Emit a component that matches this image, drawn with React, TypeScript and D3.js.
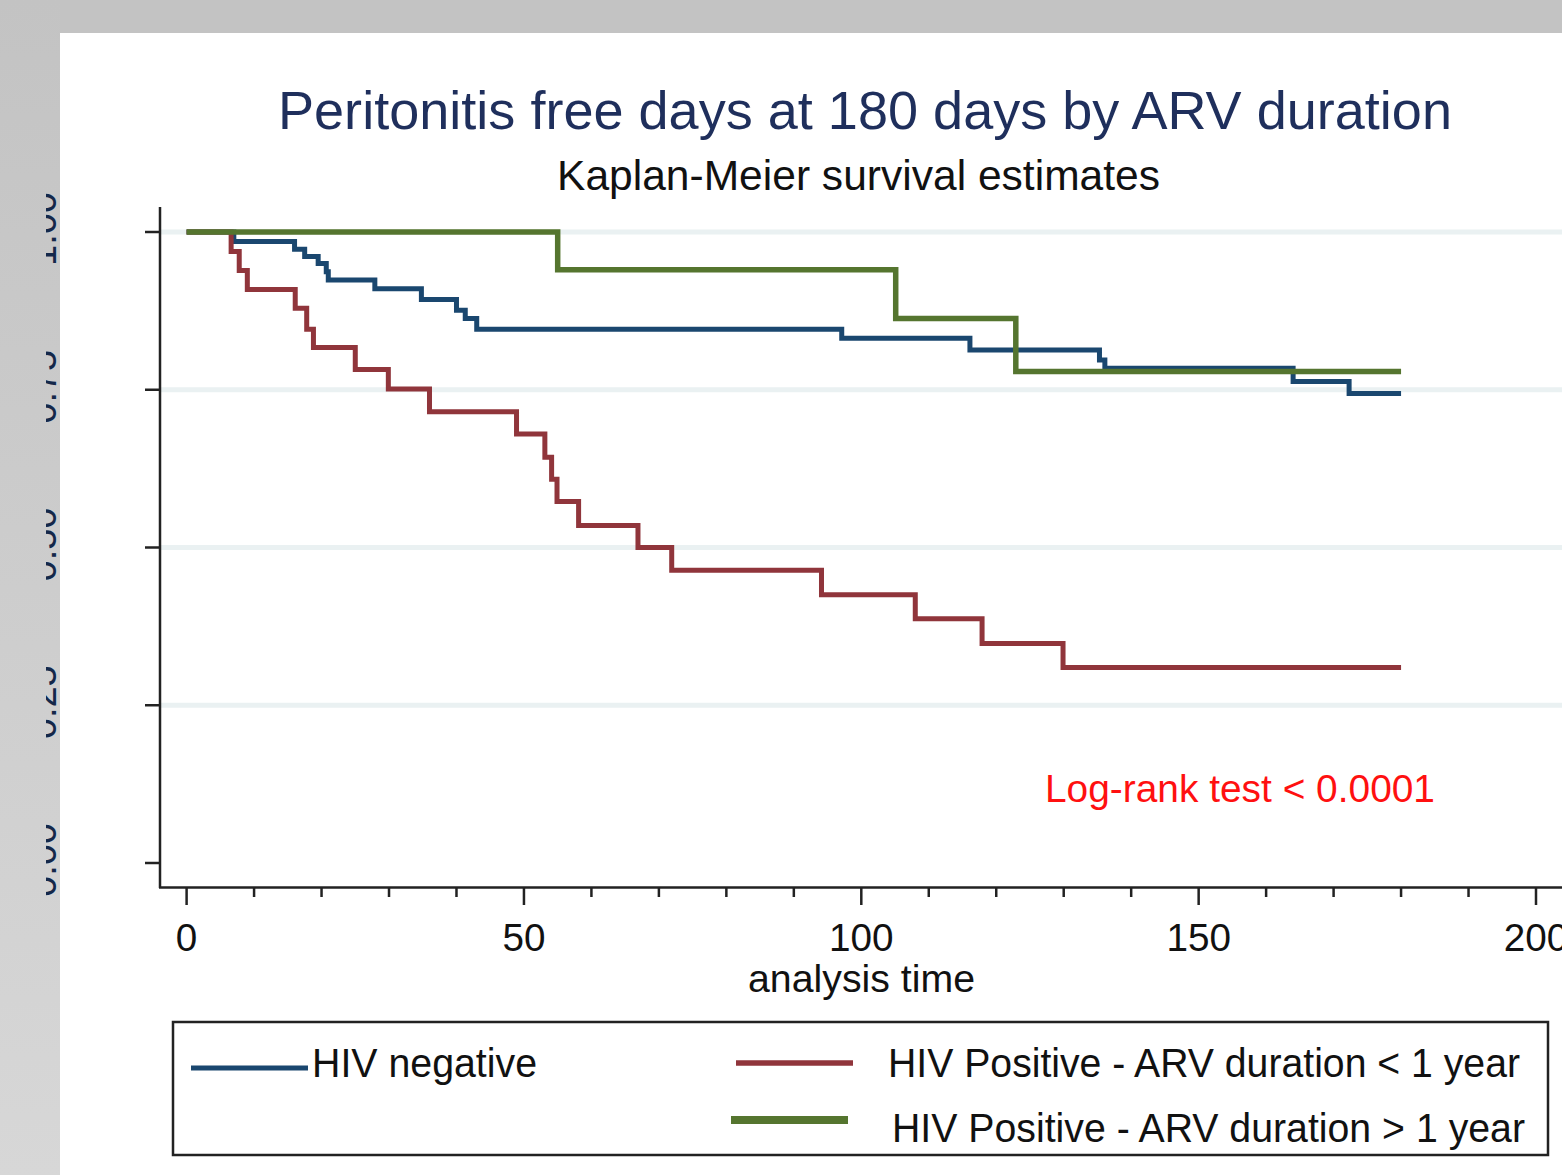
import React from 'react';
import * as d3 from 'd3';

// axis ticks
const timeTicks = [0, 50, 100, 150, 200];
const timeMinor = [10, 20, 30, 40, 60, 70, 80, 90, 110, 120, 130, 140, 160, 170, 180, 190];
const survTicks = [0, 0.25, 0.5, 0.75, 1];
const survLabels = ['0.00', '0.25', '0.50', '0.75', '1.00'];
const gridTicks = [0.25, 0.5, 0.75, 1];
const followUpEnd = 180;

// KM steps (time of drop, survival after drop)
const negTimes = [0, 7, 16, 17.5, 19.5, 20.7, 21, 27.9, 34.8, 40, 41.3, 43, 97.1, 116.1, 135.3, 136.1, 164, 172.3];
const negSurv = [1, 0.985, 0.9725, 0.961, 0.95, 0.937, 0.924, 0.91, 0.893, 0.876, 0.863, 0.846, 0.8315, 0.813, 0.797, 0.784, 0.763, 0.744];

const shortTimes = [0, 6.6, 7.8, 9.0, 16.1, 17.8, 18.8, 25, 29.9, 36, 48.9, 53.1, 54.1, 54.9, 58.1, 66.9, 71.9, 94.1, 108, 117.9, 129.9];
const shortSurv = [1, 0.969, 0.939, 0.909, 0.879, 0.846, 0.817, 0.782, 0.751, 0.715, 0.68, 0.643, 0.608, 0.573, 0.535, 0.5, 0.464, 0.425, 0.387, 0.348, 0.31];

const longTimes = [0, 55, 105.1, 122.9];
const longSurv = [1, 0.94, 0.863, 0.779];

const seriesNames = ['HIV negative', 'HIV Positive - ARV duration < 1 year', 'HIV Positive - ARV duration > 1 year'];

const W = 1562;
const H = 1175;
const FONT = '"Liberation Sans", Arial, Helvetica, sans-serif';

export default function App() {
  const x = d3.scaleLinear().domain([0, 200]).range([186.6, 1536]);
  const y = d3.scaleLinear().domain([0, 1]).range([863, 232]);

  const stepLine = d3.line<[number, number]>()
    .x(d => x(d[0]))
    .y(d => y(d[1]))
    .curve(d3.curveStepAfter);

  const toPts = (times: number[], surv: number[]): [number, number][] => {
    const pts = times.map((t, i) => [t, surv[i]] as [number, number]);
    pts.push([followUpEnd, surv[surv.length - 1]]);
    return pts;
  };

  const series = [
    { name: seriesNames[0], pts: toPts(negTimes, negSurv), color: '#1a476f', width: 5 },
    { name: seriesNames[1], pts: toPts(shortTimes, shortSurv), color: '#90353b', width: 5 },
    { name: seriesNames[2], pts: toPts(longTimes, longSurv), color: '#55752f', width: 5.5 },
  ];

  // legend layout
  const legend = [
    { x1: 191, x2: 308, ly: 1068, tx: 312, ty: 1077, w: 5, len: 225 },
    { x1: 736, x2: 853, ly: 1063, tx: 888, ty: 1077, w: 5.5, len: 632 },
    { x1: 731, x2: 848, ly: 1120, tx: 892, ty: 1142, w: 8, len: 633 },
  ];

  return (
    <svg width={W} height={H} style={{ position: 'absolute', left: 0, top: 0 }} fontFamily={FONT}>
      <defs>
        <linearGradient id="leftGray" x1="0" y1="0" x2="0" y2="1">
          <stop offset="0" stopColor="#c3c3c3" />
          <stop offset="1" stopColor="#d7d7d7" />
        </linearGradient>
        <clipPath id="ylabClip">
          <rect x={46} y={0} width={20} height={H} />
        </clipPath>
      </defs>
      <rect x={0} y={0} width={W} height={H} fill="#ffffff" />
      <rect x={0} y={0} width={W} height={33} fill="#c3c3c3" />
      <rect x={0} y={0} width={60} height={H} fill="url(#leftGray)" />

      {/* grid */}
      {gridTicks.map(t => (
        <line key={t} x1={161} x2={W} y1={y(t)} y2={y(t)} stroke="#eaf1f2" strokeWidth={5} />
      ))}

      {/* y axis */}
      <line x1={160} x2={160} y1={207} y2={888} stroke="#222" strokeWidth={2.5} />
      {survTicks.map(t => (
        <line key={t} x1={145} x2={160} y1={y(t)} y2={y(t)} stroke="#222" strokeWidth={2.5} />
      ))}
      <g clipPath="url(#ylabClip)">
        {survTicks.map((t, i) => (
          <text key={t} transform={`translate(56,${y(t) - 3}) rotate(-90)`} textAnchor="middle"
            fontSize={38} fill="#14284a">{survLabels[i]}</text>
        ))}
      </g>

      {/* x axis */}
      <line x1={159} x2={W} y1={887.5} y2={887.5} stroke="#222" strokeWidth={2.5} />
      {timeTicks.map(t => (
        <line key={t} x1={x(t)} x2={x(t)} y1={887} y2={905} stroke="#222" strokeWidth={2.5} />
      ))}
      {timeMinor.map(t => (
        <line key={t} x1={x(t)} x2={x(t)} y1={887} y2={897} stroke="#222" strokeWidth={2.5} />
      ))}
      {timeTicks.map(t => (
        <text key={t} x={x(t)} y={951} textAnchor="middle" fontSize={38} fill="#111"
          textLength={String(t).length * 21.5} lengthAdjust="spacingAndGlyphs">{t}</text>
      ))}
      <text x={861.5} y={992} textAnchor="middle" fontSize={38} fill="#111"
        textLength={227} lengthAdjust="spacingAndGlyphs">analysis time</text>

      {/* survival curves */}
      {series.map(s => (
        <path key={s.name} d={stepLine(s.pts) || ''} fill="none" stroke={s.color}
          strokeWidth={s.width} strokeLinejoin="miter" strokeLinecap="butt" />
      ))}

      <text x={1240} y={802} textAnchor="middle" fontSize={38} fill="#ff1010"
        textLength={390} lengthAdjust="spacingAndGlyphs">Log-rank test &lt; 0.0001</text>

      {/* titles */}
      <text x={865} y={129} textAnchor="middle" fontSize={53} fill="#1f2f5c"
        textLength={1174} lengthAdjust="spacingAndGlyphs">
        Peritonitis free days at 180 days by ARV duration
      </text>
      <text x={858.5} y={190} textAnchor="middle" fontSize={42} fill="#111"
        textLength={603} lengthAdjust="spacingAndGlyphs">Kaplan-Meier survival estimates</text>

      {/* legend */}
      <rect x={173} y={1022} width={1375} height={133} fill="#fff" stroke="#222" strokeWidth={2.5} />
      {series.map((s, i) => (
        <g key={s.name}>
          <line x1={legend[i].x1} x2={legend[i].x2} y1={legend[i].ly} y2={legend[i].ly}
            stroke={s.color} strokeWidth={legend[i].w} />
          <text x={legend[i].tx} y={legend[i].ty} fontSize={41} fill="#111"
            textLength={legend[i].len} lengthAdjust="spacingAndGlyphs">{s.name}</text>
        </g>
      ))}
    </svg>
  );
}
